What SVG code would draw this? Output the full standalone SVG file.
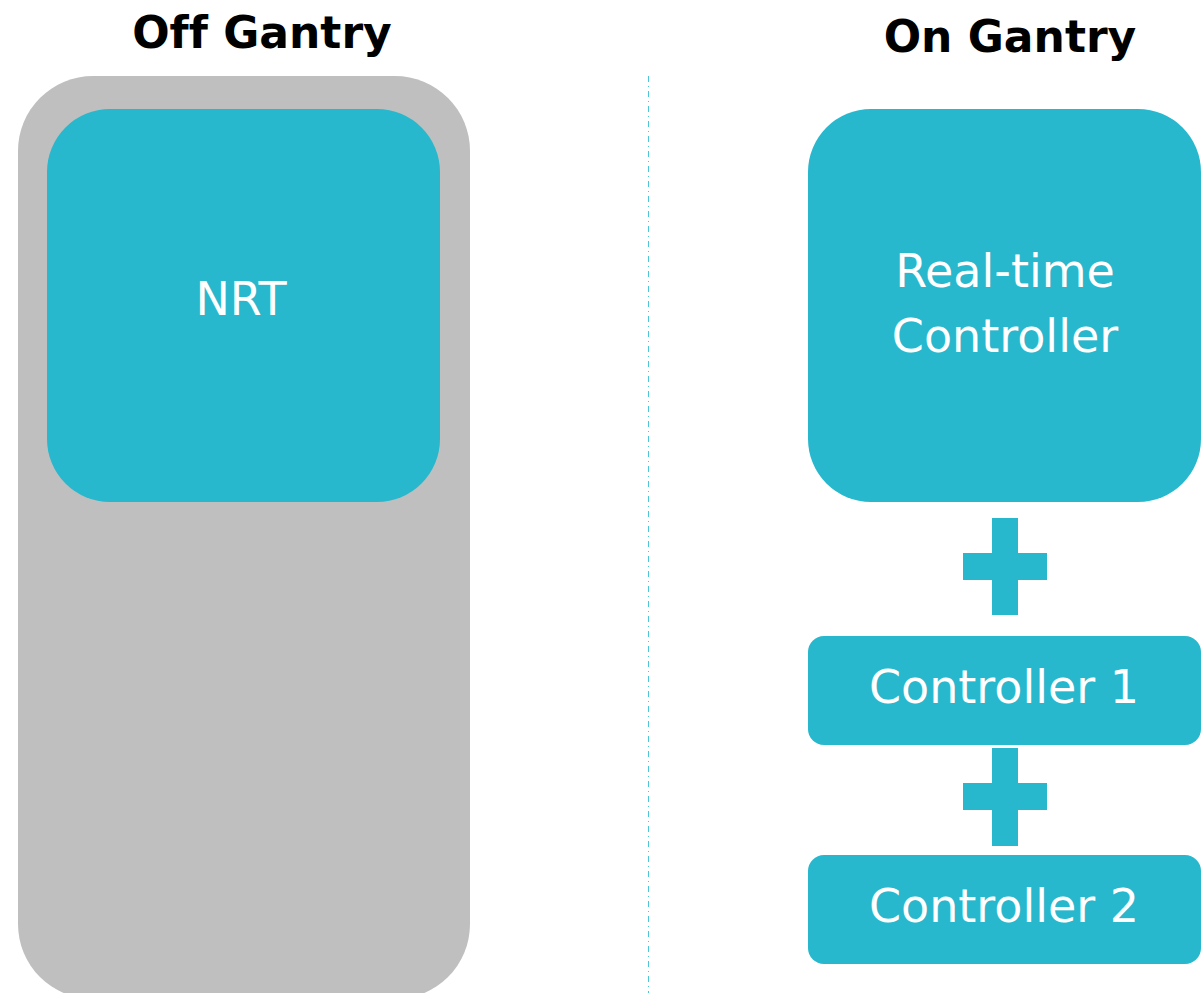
<svg xmlns="http://www.w3.org/2000/svg" width="1201" height="993" viewBox="0 0 1201 993">
  <style>
    .title { font-family: "DejaVu Sans", "Noto Sans", sans-serif; font-weight: bold; font-size: 44px; fill: #000000; text-anchor: middle; font-variant-ligatures: none; }
    .label { font-family: "DejaVu Sans", "Noto Sans", sans-serif; font-size: 46px; fill: #FFFFFF; text-anchor: middle; }
    .block { fill: #27B8CD; }
    .plus { fill: #27B8CD; }
  </style>
  <rect width="1201" height="993" fill="#FFFFFF"/>

  <!-- section headings -->
  <text class="title" x="262" y="48">Off Gantry</text>
  <text class="title" x="1010" y="52">On Gantry</text>

  <!-- divider between the two sides, and the joining plus signs -->
  <g id="connectors">
    <line x1="648.5" y1="76" x2="648.5" y2="993" stroke="#4FC6D8" stroke-width="1" stroke-dasharray="6 4 1 4"/>
    <g id="plus-1">
      <rect class="plus" x="992" y="518" width="26" height="97"/>
      <rect class="plus" x="963" y="553" width="84" height="27"/>
    </g>
    <g id="plus-2">
      <rect class="plus" x="992" y="748" width="26" height="98"/>
      <rect class="plus" x="963" y="783" width="84" height="27"/>
    </g>
  </g>

  <!-- off-gantry container -->
  <g id="off-gantry">
    <rect x="18" y="76" width="452" height="923" rx="75" ry="75" fill="#BFBFBF"/>
  </g>

  <g id="nrt">
    <rect class="block" x="47" y="109" width="393" height="393" rx="63" ry="63"/>
    <text class="label" x="241" y="315">NRT</text>
  </g>

  <g id="realtime-controller">
    <rect class="block" x="808" y="109" width="393" height="393" rx="63" ry="63"/>
    <text class="label" x="1005" y="287">Real-time</text>
    <text class="label" x="1005" y="352">Controller</text>
  </g>

  <g id="controller-1">
    <rect class="block" x="808" y="636" width="393" height="109" rx="16" ry="16"/>
    <text class="label" x="1004" y="703">Controller 1</text>
  </g>

  <g id="controller-2">
    <rect class="block" x="808" y="855" width="393" height="109" rx="16" ry="16"/>
    <text class="label" x="1004" y="922">Controller 2</text>
  </g>
</svg>
